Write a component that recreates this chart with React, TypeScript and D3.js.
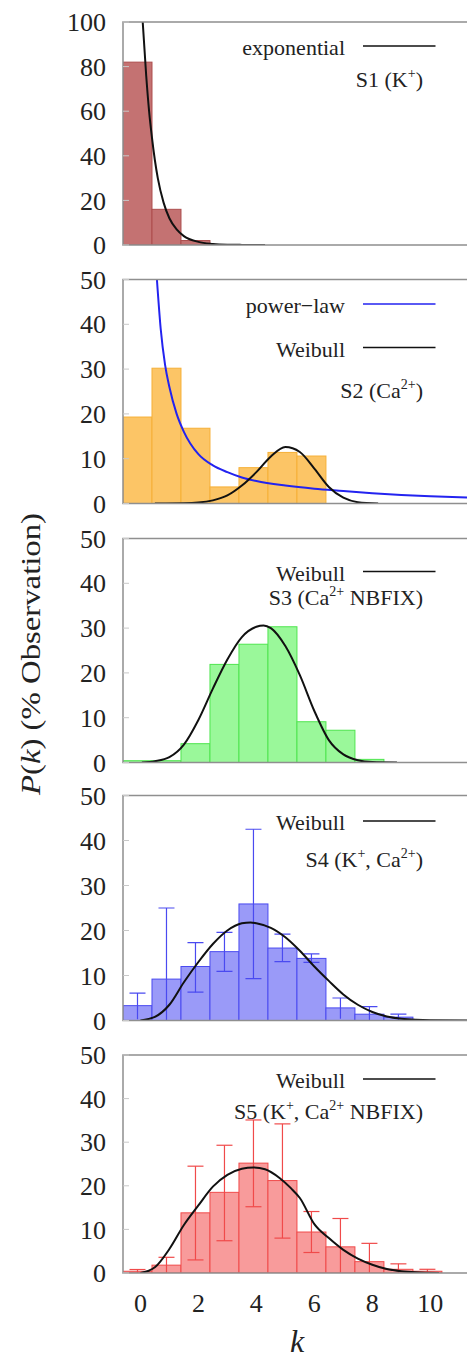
import React from "react";
import * as d3 from "d3";

// ---------- data ----------
const kValues = [0, 1, 2, 3, 4, 5, 6, 7, 8, 9, 10];
const xTicks = [0, 2, 4, 6, 8, 10];
const yTicks100 = [0, 20, 40, 60, 80, 100];
const yTicks50 = [0, 10, 20, 30, 40, 50];

const s1Values = [82, 16, 2];
const s2Values = [19.3, 30.2, 16.8, 3.7, 8.0, 11.4, 10.6];
const s3Values = [0.4, 0.4, 4.2, 21.9, 26.4, 30.3, 9.1, 7.2, 0.7];
const s4Values = [3.3, 9.2, 12.0, 15.3, 25.9, 16.1, 13.8, 2.8, 1.4, 0.75];
const s4ErrHigh = [6.1, 25.0, 17.3, 19.6, 42.5, 19.2, 14.8, 5.0, 3.1, 1.4];
const s4ErrLow = [0.3, 0, 6.3, 10.9, 9.3, 13.1, 12.9, 0.4, 0, 0];
const s5Values = [0.4, 1.8, 13.8, 18.5, 25.2, 21.2, 9.4, 6.0, 2.6, 0.85, 0.4];
const s5ErrHigh = [0.8, 3.6, 24.5, 29.3, 35.1, 34.2, 14.1, 12.5, 6.8, 2.1, 0.85];
const s5ErrLow = [0, 0, 3.0, 7.4, 15.2, 8.0, 4.7, 0, 0, 0, 0];

// fitted curves: [k, P(k)]
const expFit: [number, number][] = [
  [0.08, 100], [0.2, 76], [0.3, 60], [0.4, 48], [0.5, 38], [0.6, 30], [0.8, 19],
  [1.0, 12], [1.25, 7], [1.5, 4], [2.0, 1.4], [2.5, 0.5], [3.0, 0.15], [3.5, 0.05], [4.3, 0],
];
const s2PowerLaw: [number, number][] = [
  [0.57, 50], [0.7, 39], [0.85, 31], [1.0, 26], [1.25, 20], [1.5, 16], [2.0, 11],
  [2.5, 8.5], [3.0, 7], [3.5, 5.8], [4, 5], [5, 4], [6, 3.3], [7, 2.8], [8, 2.3],
  [9, 1.9], [10, 1.6], [11.4, 1.3],
];
const s2Weibull: [number, number][] = [
  [0.5, 0], [1.5, 0.05], [2, 0.2], [2.5, 0.7], [3, 1.8], [3.5, 4], [4, 7], [4.5, 10.5],
  [5, 12.6], [5.5, 11.5], [6, 7.8], [6.5, 3.7], [7, 1.3], [7.5, 0.3], [8.2, 0],
];
const s3Weibull: [number, number][] = [
  [0.05, 0], [0.5, 0.3], [1, 1.2], [1.5, 4], [2, 9.5], [2.5, 16.5], [3, 23], [3.5, 28],
  [4, 30.3], [4.25, 30.6], [4.5, 30], [5, 26], [5.5, 19.5], [6, 11.5], [6.5, 5],
  [7, 1.8], [7.5, 0.5], [8, 0.1], [8.85, 0],
];
const s4Weibull: [number, number][] = [
  [0, 0], [0.5, 0.8], [1, 3.5], [1.5, 8.5], [2, 13], [2.5, 17], [3, 20], [3.5, 21.6],
  [3.8, 21.8], [4, 21.6], [4.5, 20.6], [5, 18.5], [5.5, 15.5], [6, 12], [6.5, 8.8],
  [7, 5.8], [7.5, 3.5], [8, 1.9], [8.5, 0.9], [9, 0.4], [9.5, 0.15], [10, 0.05], [11.4, 0],
];
const s5Weibull: [number, number][] = [
  [0, 0], [0.5, 1.3], [1, 5.5], [1.5, 11], [2, 15.5], [2.5, 19.8], [3, 22.5], [3.5, 23.9],
  [3.9, 24.2], [4.3, 23.8], [4.8, 21.8], [5.2, 19.4], [5.5, 17.2], [6, 11.2], [6.5, 8],
  [7, 5.3], [7.5, 3.3], [8, 1.9], [8.5, 0.9], [9, 0.4], [9.5, 0.15], [10.3, 0],
];

// ---------- layout ----------
const W = 467;
const H = 1359;
const LEFT = 123;
const BIN_OFFSET = -0.1;
const SERIF = "Liberation Serif, DejaVu Serif, serif";
const fontStyle = { fontFamily: SERIF };

type Curve = { pts: [number, number][]; color: string; legend: string };
type Panel = {
  top: number;
  bottom: number;
  yMax: number;
  ticks: number[];
  values: number[];
  errHigh?: number[];
  errLow?: number[];
  fill: string;
  stroke: string;
  curves: Curve[];
  label: React.ReactNode;
  legendY0: number;
  labelY: number;
};

const sup = (s: string, after: string) => (
  <>
    <tspan dy={-9} fontSize={14}>{s}</tspan>
    <tspan dy={9}>{after}</tspan>
  </>
);

const panels: Panel[] = [
  {
    top: 22, bottom: 245, yMax: 100, ticks: yTicks100, values: s1Values,
    fill: "#c47272", stroke: "#ad4d4d",
    curves: [{ pts: expFit, color: "#111", legend: "exponential" }],
    label: (<>S1 (K{sup("+", ")")}</>),
    legendY0: 55, labelY: 87,
  },
  {
    top: 279.5, bottom: 503.5, yMax: 50, ticks: yTicks50, values: s2Values,
    fill: "#fcc566", stroke: "#f6b037",
    curves: [
      { pts: s2PowerLaw, color: "#2323f0", legend: "power\u2212law" },
      { pts: s2Weibull, color: "#111", legend: "Weibull" },
    ],
    label: (<>S2 (Ca{sup("2+", ")")}</>),
    legendY0: 313, labelY: 398,
  },
  {
    top: 538.5, bottom: 762.5, yMax: 50, ticks: yTicks50, values: s3Values,
    fill: "#9af89a", stroke: "#4fe54f",
    curves: [{ pts: s3Weibull, color: "#111", legend: "Weibull" }],
    label: (<>S3 (Ca{sup("2+", " NBFIX)")}</>),
    legendY0: 580.5, labelY: 605,
  },
  {
    top: 795.5, bottom: 1020.5, yMax: 50, ticks: yTicks50, values: s4Values,
    errHigh: s4ErrHigh, errLow: s4ErrLow,
    fill: "#9a9af8", stroke: "#4a4af0",
    curves: [{ pts: s4Weibull, color: "#111", legend: "Weibull" }],
    label: (<>S4 (K{sup("+", ", Ca")}{sup("2+", ")")}</>),
    legendY0: 830, labelY: 867,
  },
  {
    top: 1055, bottom: 1273, yMax: 50, ticks: yTicks50, values: s5Values,
    errHigh: s5ErrHigh, errLow: s5ErrLow,
    fill: "#f89b9b", stroke: "#f04a4a",
    curves: [{ pts: s5Weibull, color: "#111", legend: "Weibull" }],
    label: (<>S5 (K{sup("+", ", Ca")}{sup("2+", " NBFIX)")}</>),
    legendY0: 1088, labelY: 1119,
  },
];

const x = d3.scaleLinear().domain([-0.6, 11.3]).range([LEFT, W + 1]);

function PanelView({ p, idx }: { p: Panel; idx: number }) {
  const y = d3.scaleLinear().domain([0, p.yMax]).range([p.bottom, p.top]);
  const line = d3
    .line<[number, number]>()
    .x((d) => x(d[0]))
    .y((d) => y(d[1]))
    .curve(d3.curveMonotoneX);
  const clipId = `clip-${idx}`;
  return (
    <g>
      <defs>
        <clipPath id={clipId}>
          <rect x={LEFT} y={p.top} width={W - LEFT + 5} height={p.bottom - p.top} />
        </clipPath>
      </defs>
      <g clipPath={`url(#${clipId})`}>
        {p.values.map((v, i) => {
          const k = kValues[i];
          const x0 = x(k + BIN_OFFSET - 0.5);
          const x1 = x(k + BIN_OFFSET + 0.5);
          return (
            <rect
              key={i}
              x={x0}
              y={y(v)}
              width={x1 - x0}
              height={p.bottom - y(v)}
              fill={p.fill}
              stroke={p.stroke}
              strokeWidth={1}
            />
          );
        })}
        {p.errHigh &&
          p.errHigh.map((hi, i) => {
            const cx = x(kValues[i] + BIN_OFFSET);
            const lo = p.errLow ? p.errLow[i] : 0;
            const cap = 8;
            return (
              <g key={`e${i}`} stroke={p.stroke} strokeWidth={1.2} fill="none">
                <line x1={cx} x2={cx} y1={y(hi)} y2={y(lo)} />
                <line x1={cx - cap} x2={cx + cap} y1={y(hi)} y2={y(hi)} />
                {lo > 0.5 && <line x1={cx - cap} x2={cx + cap} y1={y(lo)} y2={y(lo)} />}
              </g>
            );
          })}
        {p.curves.map((c, i) => (
          <path key={`c${i}`} d={line(c.pts) || ""} fill="none" stroke={c.color} strokeWidth={2} />
        ))}
      </g>
      <path
        d={`M${W + 5},${p.top}H${LEFT}V${p.bottom}H${W + 5}`}
        fill="none"
        stroke="#8f8f8f"
        strokeWidth={1.5}
      />
      {p.ticks.map((t) => (
        <g key={`t${t}`}>
          <line x1={LEFT} x2={LEFT + 6} y1={y(t)} y2={y(t)} stroke="#c8c8c8" strokeWidth={1} />
          <text x={106} y={y(t)} dy="0.35em" textAnchor="end" style={fontStyle} fontSize={26} fill="#222">
            {t}
          </text>
        </g>
      ))}
      {p.curves.map((c, i) => {
        const ly = p.legendY0 + i * 43.5;
        return (
          <g key={`l${i}`}>
            <text x={345} y={ly} textAnchor="end" style={fontStyle} fontSize={22} fill="#222">
              {c.legend}
            </text>
            <line x1={363} x2={435.5} y1={ly - 9} y2={ly - 9} stroke={c.color} strokeWidth={1.3} />
          </g>
        );
      })}
      <text x={423} y={p.labelY} textAnchor="end" style={fontStyle} fontSize={22} fill="#222">
        {p.label}
      </text>
    </g>
  );
}

export default function App() {
  const last = panels[panels.length - 1];
  return (
    <svg
      width={W}
      height={H}
      style={{ position: "absolute", left: 0, top: 0, display: "block", background: "#fff" }}
    >
      <rect width={W} height={H} fill="#fff" />
      {panels.map((p, i) => (
        <PanelView key={i} p={p} idx={i} />
      ))}
      {xTicks.map((t) => (
        <text key={t} x={x(t)} y={last.bottom + 39} textAnchor="middle" style={fontStyle} fontSize={26} fill="#222">
          {t}
        </text>
      ))}
      <text x={297} y={1352} textAnchor="middle" style={fontStyle} fontSize={32} fontStyle="italic" fill="#222">
        k
      </text>
      <text
        transform="translate(40,654) rotate(-90)"
        textAnchor="middle"
        style={fontStyle}
        fontSize={28}
        fill="#222"
        textLength={282}
        lengthAdjust="spacingAndGlyphs"
      >
        <tspan fontStyle="italic">P</tspan>(<tspan fontStyle="italic">k</tspan>)  (% Observation)
      </text>
    </svg>
  );
}
